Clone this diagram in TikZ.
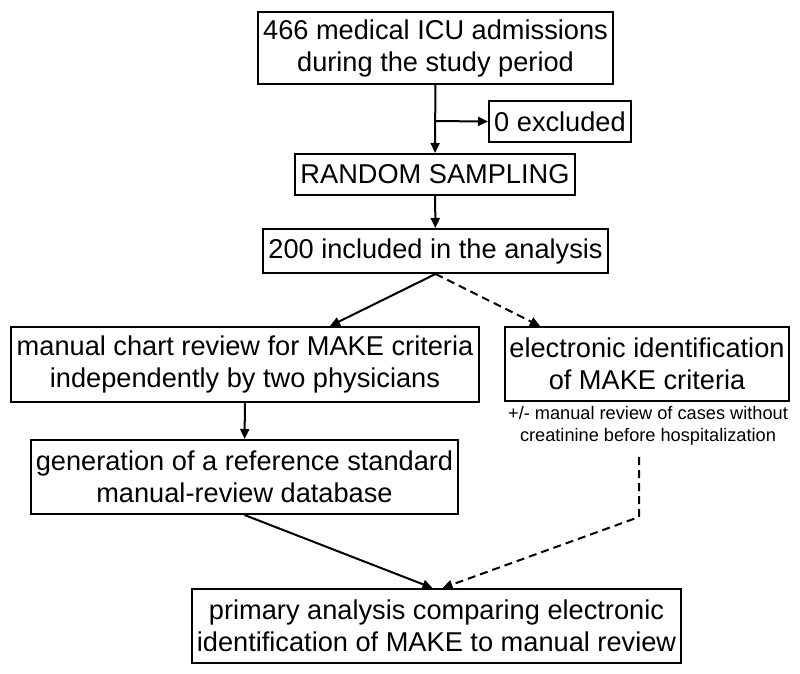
\documentclass[tikz,border=0pt]{standalone}
\usepackage{fontspec}
\setmainfont{Liberation Sans}
\usetikzlibrary{positioning,arrows.meta,calc}
\tikzset{
  box/.style={rectangle, draw=black, line width=2pt, align=center, inner sep=0pt,
    font=\fontsize{27.2}{32}\selectfont},
  connect/.style={-{Triangle[length=10pt,width=9pt]}, line width=2pt},
  dconnect/.style={connect, dash pattern=on 8pt off 5pt},
  note/.style={align=center, font=\fontsize{18.2}{22}\selectfont}
}

\begin{document}
\begin{tikzpicture}[x=1pt,y=-1pt]
    \useasboundingbox (0,0) rectangle (800,674);
    \node[box,minimum width=355pt,minimum height=72pt] (Admit) at (435.5,48) {466 medical ICU admissions\\during the study period};
    \node[box,minimum width=142pt,minimum height=41pt] (Excl) at (560,121.5) {0 excluded};
    \node[box,minimum width=280pt,minimum height=41pt] (Sample) at (435,174.5) {RANDOM SAMPLING};
    \node[box,minimum width=345pt,minimum height=44pt] (Incl) at (435.5,251) {200 included in the analysis};
    \node[box,minimum width=468pt,minimum height=75pt] (Chart) at (245,364.5) {manual chart review for MAKE criteria\\independently by two physicians};
    \node[box,minimum width=284pt,minimum height=74pt] (Elec) at (647,364) {electronic identification\\of MAKE criteria};
    \node[note] (Note) at (648,426) {+/- manual review of cases without\\creatinine before hospitalization};
    \node[box,minimum width=427pt,minimum height=74pt] (Gen) at (244.5,477) {generation of a reference standard\\manual-review database};
    \node[box,minimum width=489pt,minimum height=74pt] (Primary) at (436.5,626) {primary analysis comparing electronic\\identification of MAKE to manual review};

    \coordinate (split) at ($(Admit.south)!0.53!(Sample.north)$);
    \coordinate (top) at (639,457);
    \coordinate (bend) at (639,517);

    \path (Admit) edge [connect] (Sample)
          (split) edge [connect] (Excl.west)
          (Sample) edge [connect] (Incl);
    \path (Incl.south) edge [connect] ([xshift=85pt]Chart.north)
          (Incl.south) edge [dconnect] ([xshift=-107pt]Elec.north);
    \path (Chart) edge [connect] (Gen)
          (Gen.south) edge [connect] ([xshift=-4pt]Primary.north);
    \draw [dconnect] (top) -- (bend) -- ([xshift=6pt]Primary.north);
\end{tikzpicture}
\end{document}
